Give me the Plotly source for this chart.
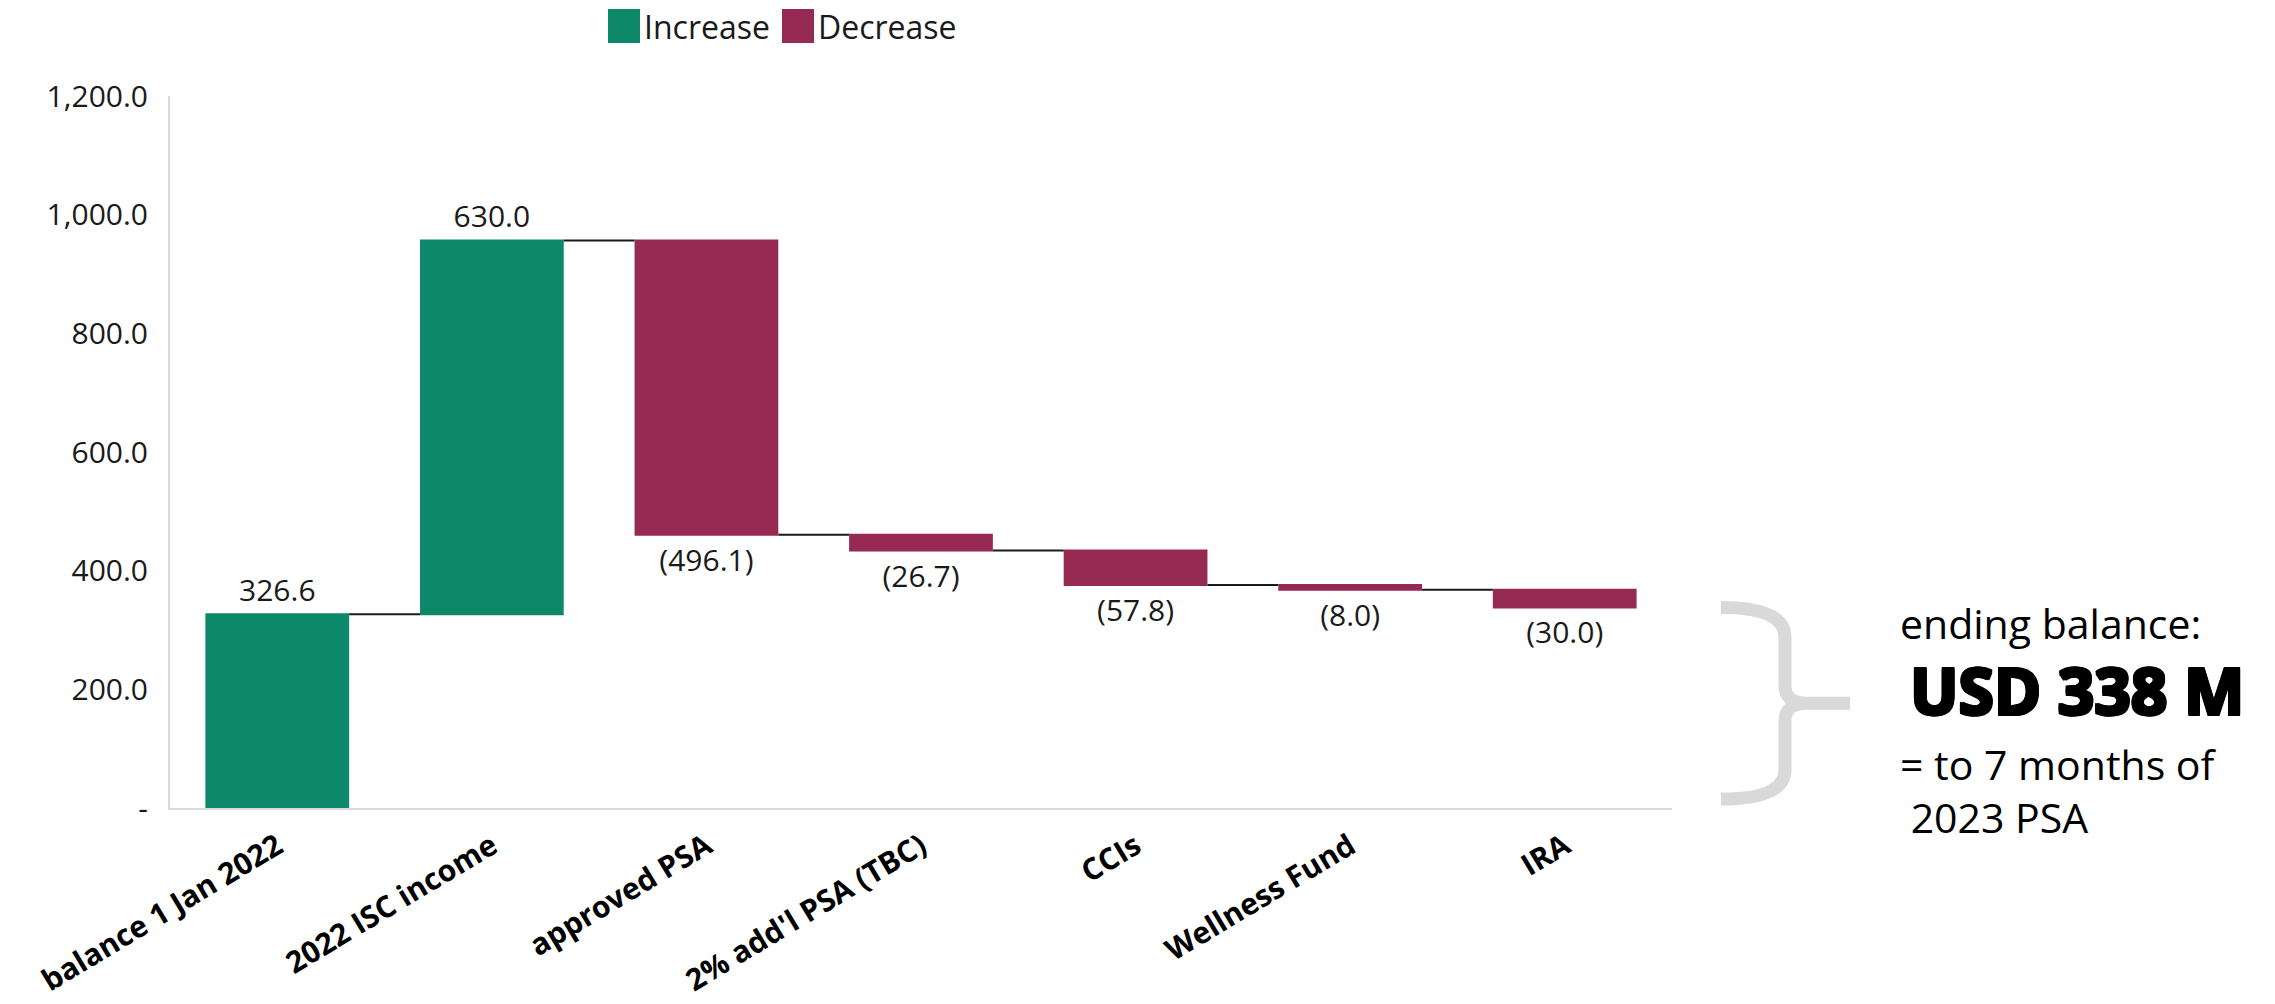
import plotly.graph_objects as go

# ---- data ----
categories = ["balance 1 Jan 2022", "2022 ISC income", "approved PSA",
              "2% add'l PSA (TBC)", "CCIs", "Wellness Fund", "IRA"]
changes = [326.6, 630.0, -496.1, -26.7, -57.8, -8.0, -30.0]
y_ticks = [0, 200, 400, 600, 800, 1000, 1200]
y_tick_text = ["-", "200.0", "400.0", "600.0", "800.0", "1,000.0", "1,200.0"]
legend_labels = ["Increase", "Decrease"]
note_title = "ending balance:"
note_value = "USD 338 M"
note_detail = ["= to 7 months of", "2023 PSA"]

GREEN = "#0D886A"
MAROON = "#962A53"
FONT = "Open Sans"

W, H = 2275, 1004
L, R, T, B = 170, 603, 96, 196
PW, PH = W - L - R, H - T - B


def px_x(px):
    return (px - L) / PW


def px_y(py):
    return (H - B - py) / PH


labels = [f"{v:,.1f}" if v >= 0 else f"({abs(v):,.1f})" for v in changes]
ending_balance = sum(changes)

fig = go.Figure()
fig.add_trace(go.Waterfall(
    x=categories,
    y=changes,
    measure=["relative"] * len(changes),
    text=labels,
    textposition="outside",
    textfont=dict(family=FONT, size=30, color="#1a1a1a"),
    increasing=dict(marker=dict(color=GREEN)),
    decreasing=dict(marker=dict(color=MAROON)),
    connector=dict(mode="between", line=dict(color="#1a1a1a", width=2)),
    cliponaxis=False,
    showlegend=False,
    hoverinfo="skip",
))

shapes = []
annotations = []

# manual legend
leg = [(608, GREEN, legend_labels[0]), (782, MAROON, legend_labels[1])]
for x0, col, lab in leg:
    shapes.append(dict(type="rect", xref="paper", yref="paper",
                       x0=px_x(x0), x1=px_x(x0 + 32), y0=px_y(43), y1=px_y(9),
                       fillcolor=col, line=dict(width=0)))
    annotations.append(dict(xref="paper", yref="paper", x=px_x(x0 + 34), y=px_y(27),
                            xanchor="left", yanchor="middle", showarrow=False,
                            text=lab, font=dict(family=FONT, size=32, color="#1a1a1a")))

# brace spanning 0 .. ending balance
xl, xs, xt = px_x(1721), px_x(1785), px_x(1850)
dxn = 22 / PW
top = ending_balance
bot = 15
mid = (top + bot) / 2
r = 50
rm = 30
path = (f"M {xl},{top} Q {xs},{top} {xs},{top - r} L {xs},{mid + rm} "
        f"Q {xs},{mid} {xs + dxn},{mid} L {xt},{mid} "
        f"M {xs + dxn},{mid} Q {xs},{mid} {xs},{mid - rm} L {xs},{bot + r} "
        f"Q {xs},{bot} {xl},{bot}")
shapes.append(dict(type="path", xref="paper", yref="y", path=path,
                   line=dict(color="#d9d9d9", width=13)))

# right-hand note
heavy = ", ".join(f"{dx}px {dy}px 0 #000" for dx in (-1.5, 0, 1.5) for dy in (-1.5, 0, 1.5)
                  if (dx, dy) != (0, 0))
annotations.append(dict(xref="paper", yref="paper", x=px_x(1898), y=px_y(623),
                        xanchor="left", yanchor="middle", showarrow=False,
                        text=note_title, font=dict(family=FONT, size=41, color="#000000")))
annotations.append(dict(xref="paper", yref="paper", x=px_x(1908), y=px_y(689),
                        xanchor="left", yanchor="middle", showarrow=False,
                        text=note_value, font=dict(family=FONT, size=64, color="#000000",
                                                   weight=700, shadow=heavy)))
annotations.append(dict(xref="paper", yref="paper", x=px_x(1898), y=px_y(790),
                        xanchor="left", yanchor="middle", align="left", showarrow=False,
                        text=note_detail[0] + "<br>&nbsp;" + note_detail[1],
                        font=dict(family=FONT, size=41, color="#000000")))

fig.update_layout(
    width=W, height=H,
    margin=dict(l=L, r=R, t=T, b=B, pad=0, autoexpand=False),
    paper_bgcolor="white", plot_bgcolor="white",
    waterfallgap=0.33,
    shapes=shapes,
    annotations=annotations,
    font=dict(family=FONT, color="#1a1a1a"),
    xaxis=dict(
        automargin=False,
        showline=True, linecolor="#d9d9d9", linewidth=2,
        showgrid=False, zeroline=False,
        tickangle=-31,
        tickfont=dict(family=FONT, size=30, color="#000000", weight=700),
        ticks="", ticklabelstandoff=7,
    ),
    yaxis=dict(
        automargin=False,
        range=[0, 1200],
        showline=True, linecolor="#d9d9d9", linewidth=2,
        showgrid=False, zeroline=False,
        tickvals=y_ticks, ticktext=y_tick_text,
        tickfont=dict(family=FONT, size=30, color="#1a1a1a"),
        ticks="", ticklabelstandoff=14,
    ),
)

fig.write_html("out.html")
